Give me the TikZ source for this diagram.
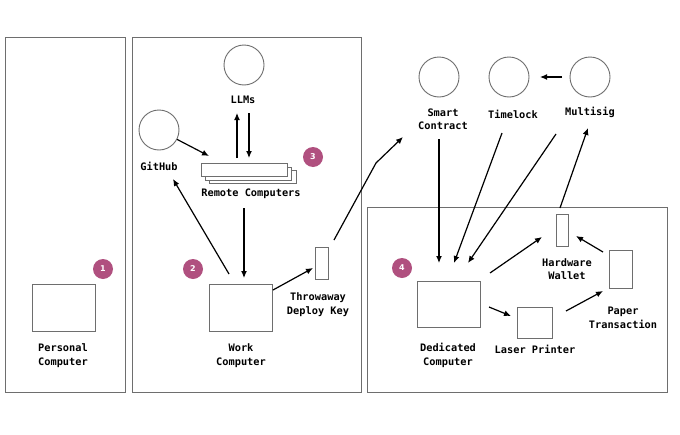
\documentclass[tikz,border=0pt]{standalone}
\usepackage{fontspec}
\setmonofont{DejaVu Sans Mono}
\newfontfamily\badgefont{DejaVu Sans}
\usetikzlibrary{arrows.meta}
\definecolor{badgecol}{HTML}{B0507F}
\definecolor{framecol}{HTML}{6E6E6E}
\begin{document}
\begin{tikzpicture}[x=1pt,y=-1pt,
  panel/.style={draw=framecol, line width=0.9pt},
  box/.style={draw=framecol, line width=0.9pt, fill=white, inner sep=0pt, rectangle},
  disc/.style={draw=framecol, line width=0.9pt, circle, minimum size=40pt, inner sep=0pt},
  lbl/.style={font=\fontsize{10.3}{13.5}\selectfont\ttfamily\bfseries, align=center, inner sep=0pt},
  badge/.style={circle, fill=badgecol, minimum size=20pt, inner sep=0pt, text=white, font=\fontsize{8}{8}\selectfont\badgefont\bfseries},
  conn/.style={line width=1.2pt, -{Latex[length=7pt,width=6pt]}}
]
\useasboundingbox (0,0) rectangle (680,434);
\fill[white] (0,0) rectangle (680,434);

% panels
\draw[panel] (5,37) rectangle (125,392);
\draw[panel] (132,37) rectangle (361,392);
\draw[panel] (367,207) rectangle (667,392);

% panel 1
\node[box, minimum width=63pt, minimum height=47pt] (personal) at (63.5,307.5) {};
\node[lbl] (personallbl) at (63,355.5) {Personal\\Computer};
\node[badge] (b1) at (103,269) {1};

% panel 2
\node[disc] (llm) at (244,65) {};
\node[lbl] (llmlbl) at (243,100) {LLMs};
\node[disc] (github) at (159,130) {};
\node[lbl] (githublbl) at (159,166) {GitHub};
\node[box, minimum width=87pt, minimum height=13pt] (remote3) at (252.5,177) {};
\node[box, minimum width=86pt, minimum height=13pt] (remote2) at (248,173.5) {};
\node[box, minimum width=86pt, minimum height=13pt] (remote) at (244,169.5) {};
\node[lbl] (remotelbl) at (251,194) {Remote Computers};
\node[badge] (b3) at (313,157) {3};
\node[box, minimum width=63pt, minimum height=47pt] (work) at (240.5,307.5) {};
\node[lbl] (worklbl) at (241,355.5) {Work\\Computer};
\node[badge] (b2) at (193,269) {2};
\node[box, minimum width=13pt, minimum height=32pt] (key) at (321.5,263) {};
\node[lbl] (keylbl) at (318,304.5) {Throwaway\\Deploy Key};

% panel 3 / top
\node[disc] (smart) at (439,77) {};
\node[lbl] (smartlbl) at (443,119) {Smart\\Contract};
\node[disc] (timelock) at (509,77) {};
\node[lbl] (timelocklbl) at (513,114) {Timelock};
\node[disc] (multisig) at (590,77) {};
\node[lbl] (multisiglbl) at (590,112) {Multisig};

\node[box, minimum width=63pt, minimum height=46pt] (dedicated) at (448.5,304) {};
\node[lbl] (dedicatedlbl) at (448,355.5) {Dedicated\\Computer};
\node[badge] (b4) at (402,268) {4};
\node[box, minimum width=35pt, minimum height=31pt] (laser) at (534.5,322.5) {};
\node[lbl] (laserlbl) at (535,349) {Laser Printer};
\node[box, minimum width=12pt, minimum height=32pt] (hw) at (562,230) {};
\node[lbl] (hwlbl) at (567,269) {Hardware\\Wallet};
\node[box, minimum width=23pt, minimum height=38pt] (paper) at (620.5,269) {};
\node[lbl] (paperlbl) at (623,318) {Paper\\Transaction};

% connector end points
\coordinate (ghEnd) at (209,156);
\coordinate (upS) at (237,158);  \coordinate (upE) at (237,113);
\coordinate (dnS) at (249,113);  \coordinate (dnE) at (249,158);
\coordinate (rwS) at (244,208);  \coordinate (rwE) at (244,278);
\coordinate (wgS) at (229,274);  \coordinate (wgE) at (173,179);
\coordinate (wkS) at (273,290);  \coordinate (wkE) at (313,268);
\coordinate (ksS) at (334,240);  \coordinate (ksM) at (376,163); \coordinate (ksE) at (403,137);
\coordinate (mtS) at (562,77);   \coordinate (mtE) at (540,77);
\coordinate (sdS) at (439,139);  \coordinate (sdE) at (439,263);
\coordinate (tdS) at (502,133);  \coordinate (tdE) at (454,263);
\coordinate (mdS) at (556,134);  \coordinate (mdE) at (468,263);
\coordinate (hmS) at (560,208);  \coordinate (hmE) at (588,128);
\coordinate (dhS) at (490,273);  \coordinate (dhE) at (542,237);
\coordinate (dlS) at (489,307);  \coordinate (dlE) at (511,316);
\coordinate (lpS) at (566,311);  \coordinate (lpE) at (603,291);
\coordinate (phS) at (603,252);  \coordinate (phE) at (576,236);

% connectors
\draw[conn] (github) -- (ghEnd);
\draw[conn] (upS) -- (upE);
\draw[conn] (dnS) -- (dnE);
\draw[conn] (rwS) -- (rwE);
\draw[conn] (wgS) -- (wgE);
\draw[conn] (wkS) -- (wkE);
\draw[conn] (ksS) -- (ksM) -- (ksE);
\draw[conn] (mtS) -- (mtE);
\draw[conn] (sdS) -- (sdE);
\draw[conn] (tdS) -- (tdE);
\draw[conn] (mdS) -- (mdE);
\draw[conn] (hmS) -- (hmE);
\draw[conn] (dhS) -- (dhE);
\draw[conn] (dlS) -- (dlE);
\draw[conn] (lpS) -- (lpE);
\draw[conn] (phS) -- (phE);
\end{tikzpicture}
\end{document}
